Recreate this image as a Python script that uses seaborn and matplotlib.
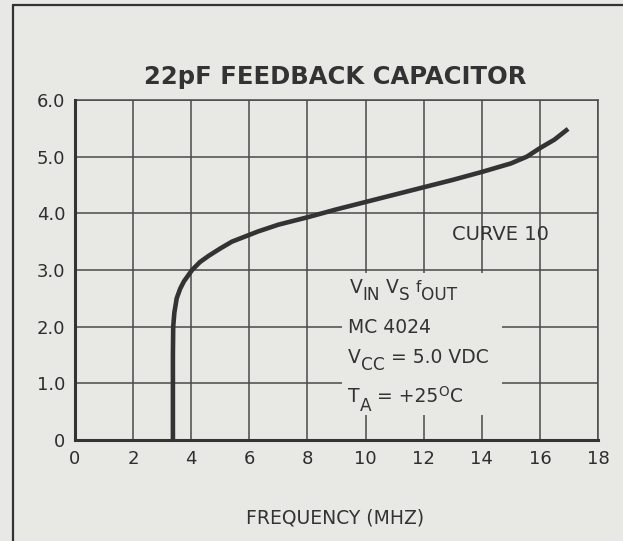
import matplotlib
matplotlib.use("Agg")
import matplotlib.pyplot as plt
import matplotlib.transforms as mtransforms
import seaborn as sns
import pandas as pd
from matplotlib.patches import Rectangle
from matplotlib.lines import Line2D

# ---- data ----
freq_mhz = [3.37, 3.37, 3.38, 3.42, 3.50, 3.62, 3.75, 4.03, 4.30, 4.60, 5.00, 5.40,
            6.30, 7.00, 8.00, 9.00, 10.0, 11.0, 12.0, 13.0, 14.0, 15.0, 15.55, 16.0, 16.5, 16.97]
vs_volts = [0.00, 1.50, 2.00, 2.25, 2.50, 2.67, 2.80, 3.00, 3.14, 3.25, 3.38, 3.50,
            3.68, 3.80, 3.93, 4.07, 4.20, 4.33, 4.46, 4.59, 4.73, 4.88, 5.00, 5.15, 5.30, 5.49]
x_ticks = [0, 2, 4, 6, 8, 10, 12, 14, 16, 18]
x_tick_labels = ["0", "2", "4", "6", "8", "10", "12", "14", "16", "18"]
y_ticks = [0, 1, 2, 3, 4, 5, 6]
y_tick_labels = ["0", "1.0", "2.0", "3.0", "4.0", "5.0", "6.0"]
title = "22pF FEEDBACK CAPACITOR"
x_label = "FREQUENCY (MHZ)"
curve_label = "CURVE 10"
device = "MC 4024"
# (text, size scale, vertical shift in px) pieces of the condition lines
line_signals = [("V", 1.0, 0), ("IN", 0.9, -7), (" ", 1.0, 0), ("V", 1.0, 0), ("S", 0.9, -7),
                (" ", 1.0, 0), ("f", 0.8, 1), ("OUT", 0.9, -7)]
line_vcc = [("V", 1.0, 0), ("CC", 0.9, -7), (" = 5.0 VDC", 1.0, 0)]
line_ta = [("T", 1.0, 0), ("A", 0.9, -9), (" = +25", 1.0, 0), ("O", 0.72, 6), ("C", 1.0, 0)]

BG = "#e8e8e4"
INK = "#333333"
GRID = "#4a4a4a"

sns.set_style("white")
plt.rcParams["font.family"] = ["DejaVu Sans"]

fig = plt.figure(figsize=(6.23, 5.41), dpi=100, facecolor=BG)
ax = fig.add_axes([75/623, 1-440/541, (598-75)/623, (440-100)/541])
ax.set_facecolor(BG)

df = pd.DataFrame({"f": freq_mhz, "v": vs_volts})
sns.lineplot(data=df, x="f", y="v", sort=False, estimator=None, ax=ax,
             color=INK, linewidth=3.3, zorder=4, solid_capstyle="butt")

ax.set_xlim(0, 18)
ax.set_ylim(0, 6)
ax.set_xticks(x_ticks)
ax.set_xticklabels(x_tick_labels)
ax.set_yticks(y_ticks)
ax.set_yticklabels(y_tick_labels)
ax.tick_params(length=0, labelsize=13, colors="#2e2e2e", pad=7)
ax.set_xlabel("")
ax.set_ylabel("")
ax.set_axisbelow(True)
ax.grid(True, color=GRID, linewidth=1.1)
for side in ["top", "right"]:
    ax.spines[side].set_color(GRID)
    ax.spines[side].set_linewidth(1.1)
for side in ["left", "bottom"]:
    ax.spines[side].set_color(INK)
    ax.spines[side].set_linewidth(2.2)
    ax.spines[side].set_zorder(5)

# blank area behind the condition text (hides grid lines)
ax.add_patch(Rectangle((9.2, 0.45), 5.5, 2.5, facecolor=BG, edgecolor="none", zorder=1))

FS = 13.5
renderer = fig.canvas.get_renderer()


def rich_text(x, y, pieces):
    off = 0.0
    for s, scale, dy in pieces:
        tr = mtransforms.offset_copy(ax.transData, fig=fig, x=off, y=dy, units="dots")
        t = ax.text(x, y, s.replace(" ", "\u00a0"), transform=tr, fontsize=FS * scale,
                    color=INK, va="baseline", ha="left", zorder=6)
        off += t.get_window_extent(renderer).width + (1 if s == "O" else 0)


ax.text(12.97, 3.53, curve_label, fontsize=14, color=INK, va="baseline", ha="left", zorder=6)
rich_text(9.45, 2.59, line_signals)
ax.text(9.40, 1.89, device, fontsize=FS, color=INK, va="baseline", ha="left", zorder=6)
rich_text(9.40, 1.36, line_vcc)
rich_text(9.40, 0.67, line_ta)

fig.text(335/623, 1-77/541, title, fontsize=17.5, fontweight="bold", color=INK,
         ha="center", va="center")
fig.text(335/623, 1-518/541, x_label, fontsize=13.5, color=INK, ha="center", va="center")

# page frame (left and top edges)
fig.add_artist(Line2D([13/623, 13/623], [0, 1-5/541], transform=fig.transFigure,
                      color=INK, linewidth=1.6))
fig.add_artist(Line2D([13/623, 1], [1-5/541, 1-5/541], transform=fig.transFigure,
                      color=INK, linewidth=1.6))

fig.savefig("out.png", dpi=100, facecolor=BG)
